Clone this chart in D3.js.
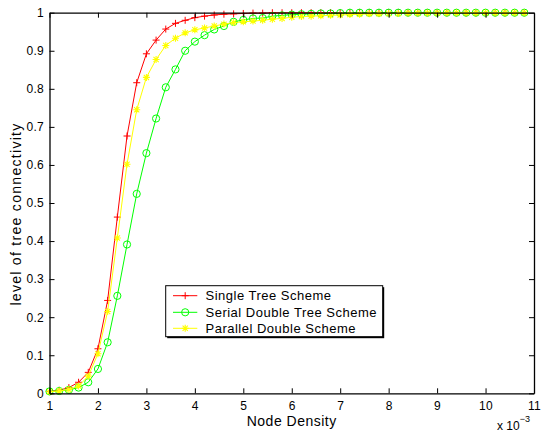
<!DOCTYPE html>
<html>
<head>
<meta charset="utf-8">
<script src="https://cdn.jsdelivr.net/npm/d3@7"></script>
<style>
html, body { margin: 0; padding: 0; background: #fff; }
svg { display: block; font-family: "Liberation Sans", Arial, Helvetica, sans-serif; }
</style>
</head>
<body>
<svg id="chart" width="543" height="432"></svg>
<script>
const density = [1.0,1.2,1.4,1.6,1.8,2.0,2.2,2.4,2.6,2.8,3.0,3.2,3.4,3.6,3.8,4.0,4.2,4.4,4.6,4.8,5.0,5.2,5.4,5.6,5.8,6.0,6.2,6.4,6.6,6.8,7.0,7.2,7.4,7.6,7.8,8.0,8.2,8.4,8.6,8.8,9.0,9.2,9.4,9.6,9.8,10.0,10.2,10.4,10.6,10.8];
const singleTree = [0.005,0.008,0.015,0.029,0.055,0.117,0.244,0.463,0.676,0.816,0.892,0.928,0.957,0.972,0.980,0.987,0.991,0.994,0.996,0.997,0.998,0.999,0.999,1,1,1,1,1,1,1,1,1,1,1,1,1,1,1,1,1,1,1,1,1,1,1,1,1,1,1];
const serialDouble = [0.005,0.006,0.009,0.015,0.029,0.064,0.134,0.256,0.391,0.524,0.631,0.722,0.804,0.851,0.900,0.924,0.941,0.956,0.965,0.976,0.981,0.985,0.986,0.991,0.993,0.995,0.996,0.997,0.998,0.998,0.999,1,1,1,1,1,1,1,1,1,1,1,1,1,1,1,1,1,1,1];
const parallelDouble = [0.004,0.006,0.010,0.019,0.045,0.104,0.215,0.408,0.602,0.745,0.830,0.877,0.914,0.933,0.947,0.955,0.960,0.965,0.970,0.974,0.976,0.978,0.980,0.983,0.985,0.988,0.990,0.991,0.992,0.993,0.994,0.995,0.996,0.997,0.997,0.998,0.998,0.999,0.999,0.999,0.999,1,1,1,1,1,1,1,1,1];
const seriesNames = ["Single Tree Scheme", "Serial Double Tree Scheme", "Parallel Double Scheme"];
const xTicks = [1,2,3,4,5,6,7,8,9,10,11];
const yTicks = [0,0.1,0.2,0.3,0.4,0.5,0.6,0.7,0.8,0.9,1];

const svg = d3.select("#chart");
const L = 49.5, R = 534, T = 12.7, B = 393.3;
const x = d3.scaleLinear().domain([1, 11]).range([L, R]);
const y = d3.scaleLinear().domain([0, 1]).range([B, T]);

const series = [
  { name: seriesNames[0], values: singleTree, color: "#ff0000", marker: "plus" },
  { name: seriesNames[1], values: serialDouble, color: "#00ff00", marker: "circle" },
  { name: seriesNames[2], values: parallelDouble, color: "#ffff00", marker: "star" }
];

function drawMarker(g, type, cx, cy, color) {
  if (type === "plus") {
    const s = 3.5;
    g.append("path").attr("d", `M${cx-s},${cy}H${cx+s}M${cx},${cy-s}V${cy+s}`)
      .attr("stroke", color).attr("stroke-width", 1).attr("fill", "none");
  } else if (type === "circle") {
    g.append("circle").attr("cx", cx).attr("cy", cy).attr("r", 3.6)
      .attr("stroke", color).attr("stroke-width", 1).attr("fill", "none");
  } else {
    const s = 3.5, d = 2.6;
    g.append("path").attr("d", `M${cx-s},${cy}H${cx+s}M${cx},${cy-s}V${cy+s}M${cx-d},${cy-d}L${cx+d},${cy+d}M${cx-d},${cy+d}L${cx+d},${cy-d}`)
      .attr("stroke", color).attr("stroke-width", 1.1).attr("fill", "none");
  }
}

// Series
const plot = svg.append("g");
series.forEach(s => {
  const pts = density.map((d, i) => [d, s.values[i]]);
  plot.append("path")
    .datum(pts)
    .attr("d", d3.line().x(d => x(d[0])).y(d => y(d[1])))
    .attr("fill", "none").attr("stroke", s.color).attr("stroke-width", 1);
  const mg = plot.append("g");
  pts.forEach(p => drawMarker(mg, s.marker, x(p[0]), y(p[1]), s.color));
});

// Axes
const fontSize = "12px";
const gBottom = svg.append("g").attr("transform", `translate(0,${B})`)
  .call(d3.axisBottom(x).tickValues(xTicks).tickSize(-5).tickSizeOuter(0).tickPadding(8).tickFormat(d3.format("d")));
const gTop = svg.append("g").attr("transform", `translate(0,${T})`)
  .call(d3.axisTop(x).tickValues(xTicks).tickSize(-5).tickSizeOuter(0).tickFormat(""));
const gLeft = svg.append("g").attr("transform", `translate(${L},0)`)
  .call(d3.axisLeft(y).tickValues(yTicks).tickSize(-5).tickSizeOuter(0).tickPadding(5.5).tickFormat(d => d === 0 ? "0" : d === 1 ? "1" : d3.format(".1f")(d)));
const gRight = svg.append("g").attr("transform", `translate(${R},0)`)
  .call(d3.axisRight(y).tickValues(yTicks).tickSize(-5).tickSizeOuter(0).tickFormat(""));
[gBottom, gTop, gLeft, gRight].forEach(g => {
  g.selectAll("path.domain").attr("stroke", "#000").attr("stroke-width", 1.3);
  g.selectAll(".tick line").attr("stroke", "#000").attr("stroke-width", 1);
  g.selectAll("text").attr("font-size", fontSize).attr("fill", "#000")
    .attr("font-family", '"Liberation Sans", Arial, sans-serif')
    .attr("letter-spacing", "0.3px");
});

// Labels
svg.append("text").attr("x", (L + R) / 2).attr("y", 426).attr("text-anchor", "middle")
  .attr("font-size", "14px").attr("letter-spacing", "0.5px").attr("fill", "#000").text("Node Density");
svg.append("text").attr("transform", `translate(21,214) rotate(-90)`)
  .attr("text-anchor", "middle").attr("font-size", "14px").attr("letter-spacing", "1.3px").attr("fill", "#000")
  .text("level of tree connectivity");
const expLabel = svg.append("text").attr("x", 497).attr("y", 429.5).attr("font-size", "12px").attr("fill", "#000");
expLabel.append("tspan").text("x 10");
expLabel.append("tspan").attr("dy", -8).attr("font-size", "9px").text("−3");

// Legend
const lg = svg.append("g");
const lx0 = 165.7, ly0 = 285.7, lw = 217, lh = 51;
lg.append("rect").attr("x", lx0 + 1.5).attr("y", ly0 + 1.5).attr("width", lw).attr("height", lh)
  .attr("fill", "#000");
lg.append("rect").attr("x", lx0).attr("y", ly0).attr("width", lw).attr("height", lh)
  .attr("fill", "#fff").attr("stroke", "#000").attr("stroke-width", 1);
const rowY = [295.7, 312.3, 328.3];
series.forEach((s, i) => {
  lg.append("line").attr("x1", 173).attr("x2", 197.3).attr("y1", rowY[i]).attr("y2", rowY[i])
    .attr("stroke", s.color).attr("stroke-width", 1);
  drawMarker(lg, s.marker, 185.2, rowY[i], s.color);
  lg.append("text").attr("x", 205.5).attr("y", rowY[i] + 4.5).attr("font-size", "13px")
    .attr("letter-spacing", "0.5px").attr("fill", "#000").text(s.name);
});
</script>
</body>
</html>
